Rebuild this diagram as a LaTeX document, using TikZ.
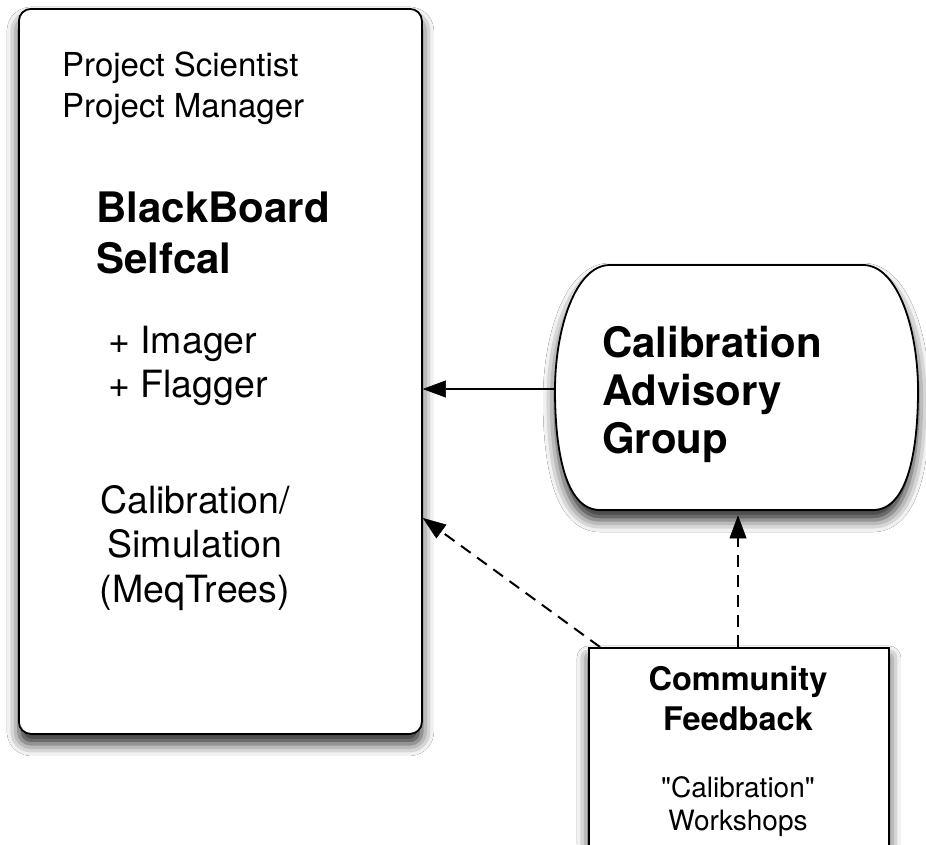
\documentclass[tikz,border=0pt]{standalone}
\usepackage{fontspec}
\setmainfont{TeX Gyre Heros}
\usetikzlibrary{arrows.meta,shadows.blur}
\begin{document}
\begin{tikzpicture}[x=1pt,y=-1pt,
  outline/.style={draw=black,line width=1.8pt,fill=white,
    blur shadow={shadow xshift=0pt,shadow yshift=-10pt,shadow blur radius=12pt,shadow opacity=85}},
  txt/.style={inner sep=0pt,text=black},
  arr/.style={draw=black,line width=2pt,-{Triangle[length=23pt,width=17pt,fill=black,line width=0.5pt]}},
  dasharr/.style={arr,dash pattern=on 12pt off 8pt}]
\clip (0,0) rectangle (926,844);
\fill[white] (0,0) rectangle (926,844);
% left box
\node[outline,rounded corners=12pt,minimum width=403pt,minimum height=725pt,anchor=north west,inner sep=0pt] (bb) at (18,8) {};
% calibration advisory group
\node[inner sep=0pt,minimum width=363pt,minimum height=245pt,anchor=north west] (cag) at (555,265) {};
\path[outline] (610,265) -- (863,265)
  .. controls (898,265) and (918,330) .. (918,390)
  .. controls (918,450) and (908,510) .. (873,510)
  -- (600,510)
  .. controls (565,510) and (555,450) .. (555,390)
  .. controls (555,330) and (575,265) .. (610,265) -- cycle;
% community feedback
\node[outline,minimum width=300pt,minimum height=240pt,anchor=north west,inner sep=0pt] (cf) at (588,647) {};
% texts (anchor = baseline of the last line)
\node[txt,font=\fontsize{33}{41}\selectfont,align=left,anchor=base west] (roles) at (62,117) {Project Scientist\\Project Manager};
\node[txt,font=\bfseries\fontsize{42}{51}\selectfont,align=left,anchor=base west] (bbs) at (96,273) {BlackBoard\\Selfcal};
\node[txt,font=\fontsize{37.5}{44}\selectfont,align=left,anchor=base west] (tools) at (108,397) {+ Imager\\+ Flagger};
\node[txt,font=\fontsize{37.5}{44.5}\selectfont,align=center,anchor=base] (meq) at (195,602) {Calibration/\\Simulation\\(MeqTrees)};
\node[txt,font=\bfseries\fontsize{42}{48}\selectfont,align=left,anchor=base west] (cagt) at (602,453) {Calibration\\Advisory\\Group};
\node[txt,font=\bfseries\fontsize{32.5}{40}\selectfont,align=center,anchor=base] (cft) at (738,730) {Community\\Feedback};
\node[txt,font=\fontsize{28}{33}\selectfont,align=center,anchor=base] (ws) at (738,830) {\textquotedbl Calibration\textquotedbl\\Workshops};
% connectors
\coordinate (cfa) at ([xshift=12pt]cf.north west);
\coordinate (bbl) at (bb.east |- 0,518);
\draw[arr] (cag.west |- 0,389) -- (bb.east |- 0,389);
\draw[dasharr] (cfa) -- (bbl);
\draw[dasharr] (cf.north -| 738,0) -- ([yshift=-5pt]cag.south -| 738,0);
\end{tikzpicture}
\end{document}
